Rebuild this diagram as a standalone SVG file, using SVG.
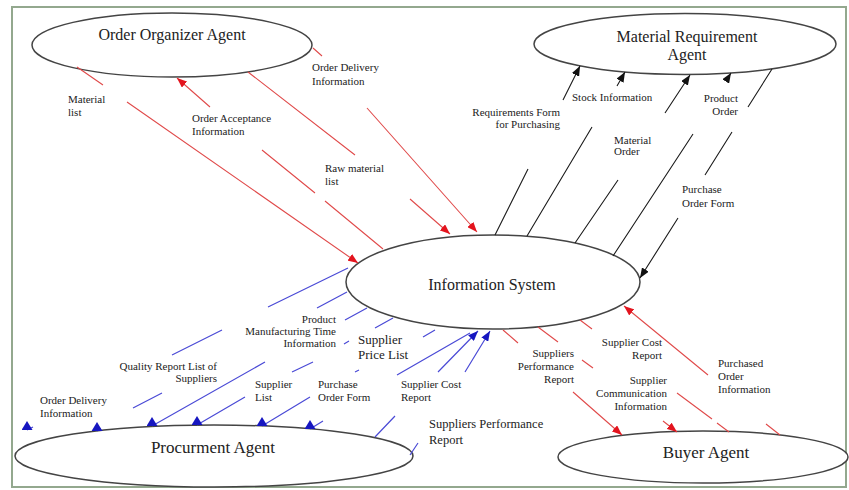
<svg xmlns="http://www.w3.org/2000/svg" width="849" height="490" viewBox="0 0 849 490">
<style>
.node{fill:#fff;stroke:#444;stroke-width:1.5}
.nt{font-family:"Liberation Serif","Times New Roman",serif;font-size:16px;fill:#222;text-anchor:middle}
.lb{font-family:"Liberation Serif","Times New Roman",serif;font-size:11px;fill:#222}
.e{text-anchor:end}
.r{fill:none;stroke:#e04a4a;stroke-width:1.1}
.b{fill:none;stroke:#4a4ad6;stroke-width:1.2}
.k{fill:none;stroke:#1a1a1a;stroke-width:1.1}
</style>
<defs>
<marker id="ar" viewBox="0 0 10 8" refX="10" refY="4" markerWidth="10" markerHeight="8" markerUnits="userSpaceOnUse" orient="auto"><path d="M0,0 L10,4 L0,8 z" fill="#e3141e"/></marker>
<marker id="ak" viewBox="0 0 10 8" refX="10" refY="4" markerWidth="10" markerHeight="8" markerUnits="userSpaceOnUse" orient="auto"><path d="M0,0 L10,4 L0,8 z" fill="#111"/></marker>
<marker id="ab" viewBox="0 0 10 8" refX="10" refY="4" markerWidth="10" markerHeight="8" markerUnits="userSpaceOnUse" orient="auto"><path d="M0,0 L10,4 L0,8 z" fill="#1616c0"/></marker>
<marker id="tb" viewBox="0 0 11 9" refX="5.5" refY="9" markerWidth="11" markerHeight="9" markerUnits="userSpaceOnUse" orient="0"><path d="M0,9 L5.5,0 L11,9 z" fill="#1616c0"/></marker>
</defs>
<rect x="12" y="7" width="834" height="480" fill="#fff" stroke="#93a88e" stroke-width="2"/>
<g id="order-organizer-agent"><ellipse class="node" cx="172" cy="45" rx="140" ry="32"/><text class="nt" x="172" y="40">Order Organizer Agent</text></g>
<g id="material-requirement-agent"><ellipse class="node" cx="685" cy="44" rx="151" ry="30.5"/><text class="nt" x="687" y="42">Material Requirement</text><text class="nt" x="687" y="60">Agent</text></g>
<g id="information-system"><ellipse class="node" cx="493" cy="282" rx="147" ry="47"/><text class="nt" x="492" y="290">Information System</text></g>
<g id="procurment-agent"><ellipse class="node" cx="214" cy="456" rx="199" ry="31"/><text class="nt" x="213" y="453" style="font-size:17px">Procurment Agent</text></g>
<g id="buyer-agent"><ellipse class="node" cx="703" cy="457" rx="145" ry="26"/><text class="nt" x="706" y="458" style="font-size:17px">Buyer Agent</text></g>
<g id="connectors">
<path class="r" d="M77,67 L103,85 M127,102 L358,263" marker-end="url(#ar)"/>
<path class="r" d="M383,249 L325,201 M315,193 L262,150 M210,107 L177,78" marker-end="url(#ar)"/>
<path class="r" d="M248,72 L355,155 M410,199 L450,234" marker-end="url(#ar)"/>
<path class="r" d="M313,48 L322,56 M367,108 L477,232" marker-end="url(#ar)"/>
<path class="r" d="M503,330 L518,343 M573,392 L622,435" marker-end="url(#ar)"/>
<path class="r" d="M538,327 L558,342 M582,360 L593,368 M663,421 L677,432" marker-end="url(#ar)"/>
<path class="r" d="M580,320 L592,329 M677,393 L712,419 M717,423 L729,432"/>
<path class="r" d="M780,435 L766,424 M708,375 L624,306" marker-end="url(#ar)"/>
<path class="k" d="M495,235 L528,169 M563,100 L580,66" marker-end="url(#ak)"/>
<path class="k" d="M527,236 L592,127 M617,86 L625,72" marker-end="url(#ak)"/>
<path class="k" d="M575,243 L618,180 M665,113 L690,75" marker-end="url(#ak)"/>
<path class="k" d="M613,256 L693,134 M726,81 L731,73" marker-end="url(#ak)"/>
<path class="k" d="M772,69 L748,107 M732,132 L705,175 M678,218 L640,278" marker-end="url(#ak)"/>
<path class="b" d="M348,268 L268,307 M222,330 L172,355 M33,427 L27,430" marker-end="url(#tb)"/>
<path class="b" d="M347,292 L317,308 M162,393 L133,408 M101,429 L97,431" marker-end="url(#tb)"/>
<path class="b" d="M367,308 L345,320 M265,362 L152,426" marker-end="url(#tb)"/>
<path class="b" d="M393,318 L375,328 M349,341 L344,344 M313,362 L292,372 M245,397 L197,425" marker-end="url(#tb)"/>
<path class="b" d="M435,330 L423,337 M359,370 L355,372 M310,397 L262,426" marker-end="url(#tb)"/>
<path class="b" d="M470,333 L397,375 M323,421 L310,429" marker-end="url(#tb)"/>
<path class="b" d="M375,437 L395,416 M438,372 L478,331" marker-end="url(#ab)"/>
<path class="b" d="M410,455 L418,443 M465,372 L490,331" marker-end="url(#ab)"/>
<text class="lb" x="68" y="103">Material</text><text class="lb" x="68" y="116">list</text>
<text class="lb" x="192" y="122">Order Acceptance</text><text class="lb" x="192" y="135">Information</text>
<text class="lb" x="312" y="71">Order Delivery</text><text class="lb" x="312" y="85">Information</text>
<text class="lb" x="325" y="172">Raw  material</text><text class="lb" x="325" y="185">list</text>
<text class="lb e" x="560" y="116">Requirements Form</text><text class="lb e" x="560" y="128">for Purchasing</text>
<text class="lb" x="572" y="101">Stock Information</text>
<text class="lb" x="614" y="144">Material</text><text class="lb" x="614" y="155">Order</text>
<text class="lb e" x="738" y="102">Product</text><text class="lb e" x="738" y="115">Order</text>
<text class="lb" x="682" y="193">Purchase</text><text class="lb" x="682" y="207">Order Form</text>
<text class="lb e" x="336" y="323">Product</text><text class="lb e" x="336" y="335">Manufacturing Time</text><text class="lb e" x="336" y="347">Information</text>
<text class="lb" x="358" y="344" style="font-size:13px">Supplier</text><text class="lb" x="358" y="359" style="font-size:13px">Price List</text>
<text class="lb e" x="217" y="370">Quality Report List of</text><text class="lb e" x="217" y="382">Suppliers</text>
<text class="lb" x="40" y="404">Order Delivery</text><text class="lb" x="40" y="417">Information</text>
<text class="lb" x="255" y="388">Supplier</text><text class="lb" x="255" y="401">List</text>
<text class="lb" x="318" y="388">Purchase</text><text class="lb" x="318" y="401">Order Form</text>
<text class="lb" x="401" y="388">Supplier Cost</text><text class="lb" x="401" y="401">Report</text>
<text class="lb" x="429" y="428" style="font-size:12.5px">Suppliers Performance</text><text class="lb" x="429" y="444" style="font-size:12.5px">Report</text>
<text class="lb e" x="574" y="357">Suppliers</text><text class="lb e" x="574" y="370">Performance</text><text class="lb e" x="574" y="383">Report</text>
<text class="lb e" x="662" y="346">Supplier Cost</text><text class="lb e" x="662" y="359">Report</text>
<text class="lb e" x="667" y="384">Supplier</text><text class="lb e" x="667" y="397">Communication</text><text class="lb e" x="667" y="410">Information</text>
<text class="lb" x="718" y="367">Purchased</text><text class="lb" x="718" y="380">Order</text><text class="lb" x="718" y="393">Information</text>
</g>
</svg>
